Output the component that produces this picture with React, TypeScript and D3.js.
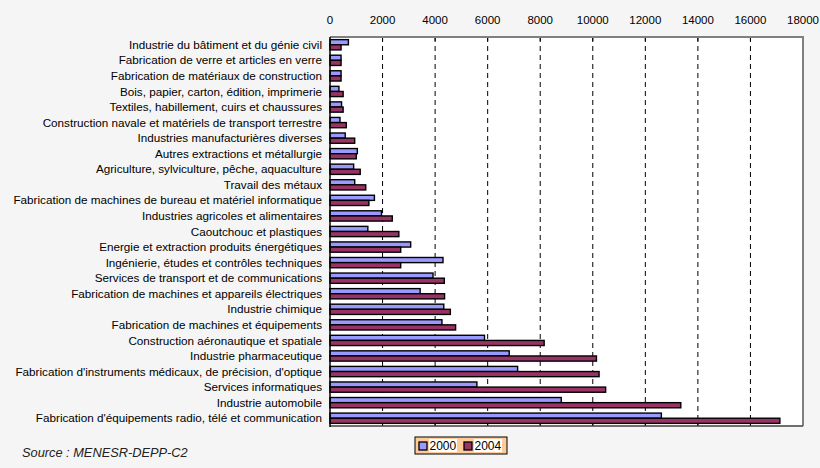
import * as d3 from "d3";

const categories = [
  "Industrie du bâtiment et du génie civil",
  "Fabrication de verre et articles en verre",
  "Fabrication de matériaux de construction",
  "Bois, papier, carton, édition, imprimerie",
  "Textiles, habillement, cuirs et chaussures",
  "Construction navale et matériels de transport terrestre",
  "Industries manufacturières diverses",
  "Autres extractions et métallurgie",
  "Agriculture, sylviculture, pêche, aquaculture",
  "Travail des métaux",
  "Fabrication de machines de bureau et matériel informatique",
  "Industries agricoles et alimentaires",
  "Caoutchouc et plastiques",
  "Energie et extraction produits énergétiques",
  "Ingénierie, études et contrôles techniques",
  "Services de transport et de communications",
  "Fabrication de machines et appareils électriques",
  "Industrie chimique",
  "Fabrication de machines et équipements",
  "Construction aéronautique et spatiale",
  "Industrie pharmaceutique",
  "Fabrication d'instruments médicaux, de précision, d'optique",
  "Services informatiques",
  "Industrie automobile",
  "Fabrication d'équipements radio, télé et communication",
];

const values2000 = [
  700, 420, 420, 340, 440, 380, 580, 1040, 900, 940, 1690, 1960, 1440, 3070,
  4300, 3920, 3430, 4330, 4260, 5880, 6820, 7140, 5590, 8800, 12610,
];
const values2004 = [
  420, 420, 420, 500, 500, 620, 940, 1000, 1150, 1360, 1480, 2370, 2620, 2690,
  2690, 4350, 4360, 4580, 4780, 8150, 10140, 10240, 10490, 13350, 17120,
];

const series = ["2000", "2004"];
const seriesColors = ["#9999ff", "#993366"];
const xTicks = [0, 2000, 4000, 6000, 8000, 10000, 12000, 14000, 16000, 18000];

const width = 820;
const height = 468;
const left = 330;
const right = 803;
const top = 37;
const bottom = 426;

export default function App() {
  const x = d3.scaleLinear().domain([0, 18000]).range([left, right]);
  const y = d3.scaleBand<string>().domain(categories).range([top, bottom]).paddingInner(0.34).paddingOuter(0.17);
  const ySub = d3.scaleBand<string>().domain(series).range([0, y.bandwidth()]);
  const font = "'Liberation Sans', Arial, sans-serif";

  return (
    <div style={{ position: "fixed", left: 0, top: 0 }}>
      <svg width={width} height={height} style={{ display: "block", fontFamily: font }}>
        <rect x={0} y={0} width={width} height={height} fill="#f5f5f5" />
        <rect x={left} y={top} width={right - left} height={bottom - top} fill="#ffffff" />

        {/* grid */}
        {xTicks.slice(1, -1).map((t) => (
          <g key={t}>
            <line x1={x(t)} x2={x(t)} y1={top} y2={bottom} stroke="#000" strokeWidth={1} strokeDasharray="5,4" />
            <line x1={x(t)} x2={x(t)} y1={top} y2={top + 4} stroke="#000" strokeWidth={1} />
            <line x1={x(t)} x2={x(t)} y1={bottom - 4} y2={bottom} stroke="#000" strokeWidth={1} />
          </g>
        ))}
        {xTicks.map((t) => (
          <text key={t} x={x(t)} y={24} textAnchor="middle" fontSize={11.5} fill="#000">
            {t}
          </text>
        ))}

        {/* bars */}
        {categories.map((c, i) =>
          [values2000[i], values2004[i]].map((v, j) => (
            <rect
              key={c + j}
              x={x(0)}
              y={(y(c) ?? 0) + (ySub(series[j]) ?? 0)}
              width={x(v) - x(0)}
              height={ySub.bandwidth()}
              fill={seriesColors[j]}
              stroke="#000"
              strokeWidth={1.4}
            />
          ))
        )}

        {/* frame */}
        <path d={`M${left},${top}H${right}V${bottom}`} fill="none" stroke="#808080" strokeWidth={2} />
        <line x1={left} x2={right} y1={bottom} y2={bottom} stroke="#404040" strokeWidth={1.5} />
        <line x1={left} x2={left} y1={top} y2={bottom + 1} stroke="#000" strokeWidth={1.5} />

        {/* category labels */}
        {categories.map((c) => (
          <text
            key={c}
            x={left - 8}
            y={(y(c) ?? 0) + y.bandwidth() / 2}
            dy="0.35em"
            textAnchor="end"
            fontSize={11.7}
            fill="#000"
          >
            {c}
          </text>
        ))}

        {/* source */}
        <text x={22} y={457} fontSize={12.8} fontStyle="italic" fill="#222">
          Source : MENESR-DEPP-C2
        </text>

        {/* legend */}
        <g transform="translate(415,437)">
          <rect x={0} y={0} width={92} height={17} fill="#ffcc99" stroke="#000" strokeWidth={1} />
          {series.map((s, j) => (
            <g key={s} transform={`translate(${4 + j * 45},0)`}>
              <rect x={0} y={5} width={8} height={8} fill={seriesColors[j]} stroke="#000" strokeWidth={1.3} />
              <rect x={10} y={2} width={28} height={13} fill="#fff" />
              <text x={10.5} y={13} fontSize={12} fill="#000">
                {s}
              </text>
            </g>
          ))}
        </g>
      </svg>
    </div>
  );
}
